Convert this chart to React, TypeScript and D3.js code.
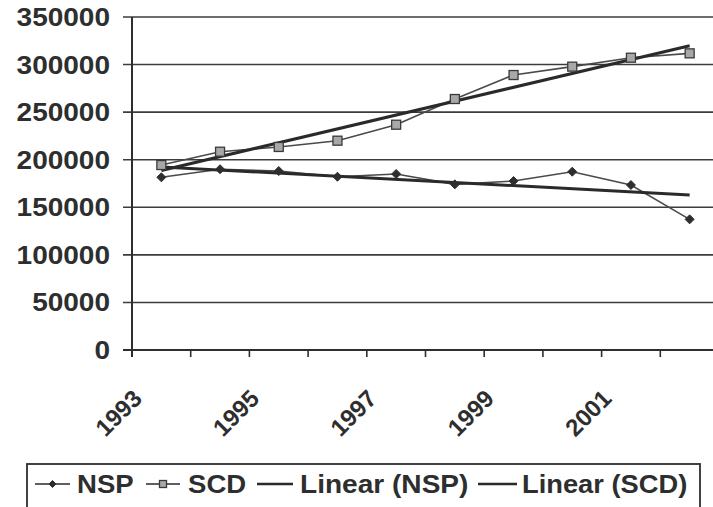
import React from "react";
import * as d3 from "d3";

const years = ["1993", "1994", "1995", "1996", "1997", "1998", "1999", "2000", "2001", "2002"];
const nspValues = [181500, 190000, 188100, 182100, 185000, 174100, 177600, 187400, 173400, 137300];
const scdValues = [194400, 208400, 213400, 220000, 236800, 263800, 289000, 297800, 307200, 311800];
const yTicks = [0, 50000, 100000, 150000, 200000, 250000, 300000, 350000];
const xLabelYears = ["1993", "1995", "1997", "1999", "2001"];
const legendLabels = ["NSP", "SCD", "Linear (NSP)", "Linear (SCD)"];

const W = 713;
const H = 507;
const INK = "#2e2e2e";
const FONT = "'Liberation Sans', Arial, sans-serif";

function linearFit(vals: number[]) {
  const n = vals.length;
  const xs = vals.map((_, i) => i);
  const mx = d3.mean(xs) as number;
  const my = d3.mean(vals) as number;
  let sxy = 0;
  let sxx = 0;
  xs.forEach((x, i) => {
    sxy += (x - mx) * (vals[i] - my);
    sxx += (x - mx) * (x - mx);
  });
  const slope = sxy / sxx;
  const intercept = my - slope * mx;
  return [intercept, intercept + slope * (n - 1)];
}

function Diamond({ cx, cy, r }: { cx: number; cy: number; r: number }) {
  return (
    <path
      d={`M${cx},${cy - r}L${cx + r},${cy}L${cx},${cy + r}L${cx - r},${cy}Z`}
      fill={INK}
      stroke={INK}
      strokeWidth={1}
    />
  );
}

function Square({ cx, cy, s }: { cx: number; cy: number; s: number }) {
  return (
    <rect x={cx - s / 2} y={cy - s / 2} width={s} height={s} fill="#a8a8a8" stroke="#3a3a3a" strokeWidth={1.3} />
  );
}

export default function App() {
  const x = d3.scaleBand<string>().domain(years).range([132, 719]).padding(0);
  const bw = x.bandwidth();
  const cx = (yr: string) => (x(yr) as number) + bw / 2;
  const y = d3.scaleLinear().domain([0, 350000]).range([350, 17]);

  const line = d3
    .line<number>()
    .x((_, i) => cx(years[i]))
    .y((d) => y(d));

  const nspFit = linearFit(nspValues);
  const scdFit = linearFit(scdValues);
  const first = years[0];
  const last = years[years.length - 1];

  const legendItems = [
    { label: legendLabels[0], x1: 35, x2: 70, tx: 77, kind: "diamond" },
    { label: legendLabels[1], x1: 146, x2: 180, tx: 188, kind: "square" },
    { label: legendLabels[2], x1: 257, x2: 293, tx: 300, kind: "trend", sx: 1.08 },
    { label: legendLabels[3], x1: 478, x2: 517, tx: 522, kind: "trend", sx: 1.05 },
  ];

  return (
    <div style={{ position: "absolute", left: 0, top: 0 }}>
      <svg width={W} height={H} style={{ display: "block", background: "#fff" }}>
        <rect x={0} y={0} width={W} height={H} fill="#fff" />
        {/* gridlines */}
        {yTicks.map((t) => (
          <line
            key={"g" + t}
            x1={123}
            x2={719}
            y1={y(t)}
            y2={y(t)}
            stroke={t === 0 ? INK : "#3c3c3c"}
            strokeWidth={t === 0 ? 2 : 1.6}
          />
        ))}
        {/* y axis */}
        <line x1={132} x2={132} y1={y(350000)} y2={357} stroke={INK} strokeWidth={2} />
        {/* x ticks */}
        {d3.range(years.length + 1).map((i) => (
          <line
            key={"xt" + i}
            x1={132 + i * bw}
            x2={132 + i * bw}
            y1={350}
            y2={357}
            stroke={INK}
            strokeWidth={1.6}
          />
        ))}
        {/* y labels */}
        {yTicks.map((t) => (
          <text
            key={"yl" + t}
            transform={`translate(110,${y(t) + 9}) scale(1.12,1)`}
            textAnchor="end"
            fontFamily={FONT}
            fontWeight="bold"
            fontSize={25}
            fill={INK}
          >
            {t}
          </text>
        ))}
        {/* x labels */}
        {xLabelYears.map((yr) => (
          <text
            key={"xl" + yr}
            transform={`translate(${cx(yr) - 18},400) rotate(-45)`}
            textAnchor="end"
            fontFamily={FONT}
            fontWeight="bold"
            fontSize={24}
            fill={INK}
          >
            {yr}
          </text>
        ))}
        {/* series lines */}
        <path d={line(nspValues) || ""} fill="none" stroke="#4a4a4a" strokeWidth={1.6} />
        <path d={line(scdValues) || ""} fill="none" stroke="#4a4a4a" strokeWidth={1.6} />
        {/* trend lines */}
        <line x1={cx(first)} x2={cx(last)} y1={y(nspFit[0])} y2={y(nspFit[1])} stroke="#2a2a2a" strokeWidth={3} />
        <line x1={cx(first)} x2={cx(last)} y1={y(scdFit[0])} y2={y(scdFit[1])} stroke="#2a2a2a" strokeWidth={3} />
        {/* markers */}
        {nspValues.map((v, i) => (
          <Diamond key={"d" + i} cx={cx(years[i])} cy={y(v)} r={4.5} />
        ))}
        {scdValues.map((v, i) => (
          <Square key={"s" + i} cx={cx(years[i])} cy={y(v)} s={9} />
        ))}
        {/* legend */}
        <rect x={27} y={464} width={673} height={60} fill="none" stroke={INK} strokeWidth={1.8} />
        {legendItems.map((it) => (
          <g key={it.label}>
            <line
              x1={it.x1}
              x2={it.x2}
              y1={484}
              y2={484}
              stroke="#2a2a2a"
              strokeWidth={it.kind === "trend" ? 2.5 : 1.6}
            />
            {it.kind === "diamond" && <Diamond cx={(it.x1 + it.x2) / 2} cy={484} r={3.5} />}
            {it.kind === "square" && <Square cx={(it.x1 + it.x2) / 2} cy={484} s={7} />}
            <text
              transform={`translate(${it.tx},493) scale(${it.sx || 1.06},1)`}
              fontFamily={FONT}
              fontWeight="bold"
              fontSize={26}
              fill={INK}
            >
              {it.label}
            </text>
          </g>
        ))}
      </svg>
    </div>
  );
}
